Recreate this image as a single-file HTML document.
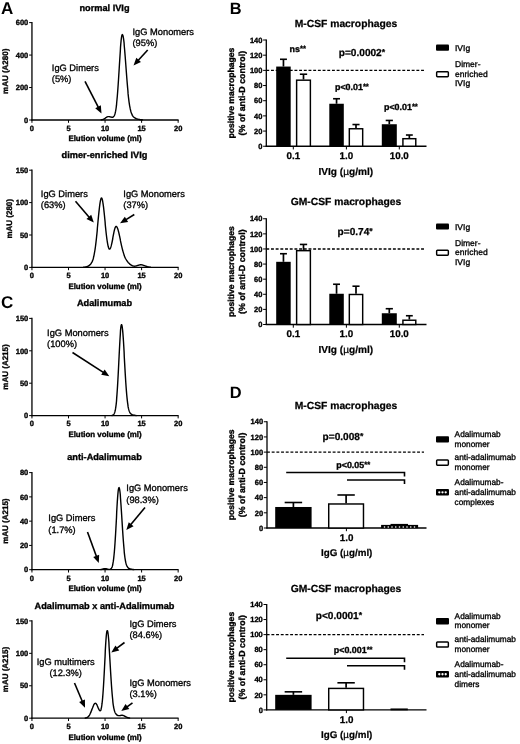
<!DOCTYPE html>
<html lang="en"><head><meta charset="utf-8"><title>Figure</title>
<style>
html,body{margin:0;padding:0;background:#fff;}
body{width:520px;height:744px;overflow:hidden;}
svg{display:block;will-change:transform;text-rendering:geometricPrecision;font-family:'Liberation Sans', sans-serif;fill:#000;}
</style></head><body>
<svg width="520" height="744" viewBox="0 0 520 744" font-family="Liberation Sans, sans-serif">
<rect width="520" height="744" fill="#fff"/>
<text x="104.50" y="10.60" font-size="9.2" font-weight="bold" stroke="#000" stroke-width="0.34" text-anchor="middle">normal IVIg</text>
<line x1="31.95" y1="22.00" x2="31.95" y2="120.60" stroke="#000" stroke-width="1.3"/>
<line x1="31.35" y1="120.00" x2="178.60" y2="120.00" stroke="#000" stroke-width="1.3"/>
<line x1="29.15" y1="120.00" x2="31.95" y2="120.00" stroke="#000" stroke-width="1.0"/>
<text x="28.25" y="122.70" font-size="7.5" font-weight="bold" stroke="#000" stroke-width="0.34" text-anchor="end">0</text>
<line x1="29.15" y1="87.53" x2="31.95" y2="87.53" stroke="#000" stroke-width="1.0"/>
<text x="28.25" y="90.23" font-size="7.5" font-weight="bold" stroke="#000" stroke-width="0.34" text-anchor="end">200</text>
<line x1="29.15" y1="55.07" x2="31.95" y2="55.07" stroke="#000" stroke-width="1.0"/>
<text x="28.25" y="57.77" font-size="7.5" font-weight="bold" stroke="#000" stroke-width="0.34" text-anchor="end">400</text>
<line x1="29.15" y1="22.60" x2="31.95" y2="22.60" stroke="#000" stroke-width="1.0"/>
<text x="28.25" y="25.30" font-size="7.5" font-weight="bold" stroke="#000" stroke-width="0.34" text-anchor="end">600</text>
<line x1="31.95" y1="120.00" x2="31.95" y2="122.80" stroke="#000" stroke-width="1.0"/>
<text x="31.95" y="130.80" font-size="7.5" font-weight="bold" stroke="#000" stroke-width="0.34" text-anchor="middle">0</text>
<line x1="68.50" y1="120.00" x2="68.50" y2="122.80" stroke="#000" stroke-width="1.0"/>
<text x="68.50" y="130.80" font-size="7.5" font-weight="bold" stroke="#000" stroke-width="0.34" text-anchor="middle">5</text>
<line x1="105.05" y1="120.00" x2="105.05" y2="122.80" stroke="#000" stroke-width="1.0"/>
<text x="105.05" y="130.80" font-size="7.5" font-weight="bold" stroke="#000" stroke-width="0.34" text-anchor="middle">10</text>
<line x1="141.60" y1="120.00" x2="141.60" y2="122.80" stroke="#000" stroke-width="1.0"/>
<text x="141.60" y="130.80" font-size="7.5" font-weight="bold" stroke="#000" stroke-width="0.34" text-anchor="middle">15</text>
<line x1="178.15" y1="120.00" x2="178.15" y2="122.80" stroke="#000" stroke-width="1.0"/>
<text x="178.15" y="130.80" font-size="7.5" font-weight="bold" stroke="#000" stroke-width="0.34" text-anchor="middle">20</text>
<text x="105.00" y="140.90" font-size="7.9" font-weight="bold" stroke="#000" stroke-width="0.34" text-anchor="middle">Elution volume (ml)</text>
<text x="8.10" y="71.30" font-size="8" font-weight="bold" stroke="#000" stroke-width="0.34" text-anchor="middle" transform="rotate(-90 8.10 71.30)">mAU (A280)</text>
<path d="M101.2,119.9 L101.5,119.8 L101.8,119.8 L102.1,119.7 L102.4,119.6 L102.7,119.6 L103.0,119.5 L103.3,119.3 L103.6,119.2 L103.9,119.1 L104.2,118.9 L104.5,118.7 L104.8,118.5 L105.1,118.3 L105.3,118.1 L105.6,117.9 L105.9,117.7 L106.2,117.5 L106.5,117.3 L106.8,117.1 L107.1,116.9 L107.4,116.8 L107.7,116.7 L108.0,116.6 L108.3,116.6 L108.6,116.6 L108.9,116.6 L109.1,116.6 L109.4,116.7 L109.7,116.7 L110.0,116.8 L110.3,116.9 L110.6,117.0 L110.9,117.0 L111.2,117.1 L111.5,117.2 L111.8,117.2 L112.1,117.3 L112.4,117.3 L112.7,117.3 L112.9,117.2 L113.2,117.0 L113.5,116.8 L113.8,116.5 L114.1,116.0 L114.4,115.4 L114.7,114.7 L115.0,113.7 L115.3,112.6 L115.6,111.2 L115.9,109.5 L116.2,107.5 L116.5,105.2 L116.7,102.5 L117.0,99.5 L117.3,96.2 L117.6,92.5 L117.9,88.5 L118.2,84.2 L118.5,79.7 L118.8,75.0 L119.1,70.2 L119.4,65.3 L119.7,60.5 L120.0,55.9 L120.3,51.4 L120.5,47.4 L120.8,43.7 L121.1,40.6 L121.4,38.1 L121.7,36.2 L122.0,35.0 L122.3,34.6 L122.6,34.8 L122.9,35.5 L123.2,36.7 L123.5,38.4 L123.8,40.6 L124.1,43.2 L124.3,46.2 L124.6,49.5 L124.9,53.1 L125.2,56.8 L125.5,60.7 L125.8,64.7 L126.1,68.7 L126.4,72.7 L126.7,76.7 L127.0,80.5 L127.3,84.1 L127.6,87.6 L127.9,90.8 L128.1,93.9 L128.4,96.7 L128.7,99.2 L129.0,101.6 L129.3,103.7 L129.6,105.6 L129.9,107.2 L130.2,108.7 L130.5,110.0 L130.8,111.2 L131.1,112.2 L131.4,113.1 L131.7,113.8 L132.0,114.5 L132.2,115.1 L132.5,115.6 L132.8,116.0 L133.1,116.4 L133.4,116.7 L133.7,117.0 L134.0,117.3 L134.3,117.5 L134.6,117.7 L134.9,117.9 L135.2,118.1 L135.5,118.3 L135.8,118.4 L136.0,118.5 L136.3,118.7 L136.6,118.8 L136.9,118.9 L137.2,119.0 L137.5,119.1 L137.8,119.2 L138.1,119.2 L138.4,119.3 L138.7,119.4 L139.0,119.4 L139.3,119.5 L139.6,119.5 L139.8,119.6 L140.1,119.6 L140.4,119.7 L140.7,119.7 L141.0,119.7 L141.3,119.8 L141.6,119.8 L141.9,119.8 L142.2,119.8 L142.5,119.9" fill="none" stroke="#000" stroke-width="1.4" stroke-linejoin="round" stroke-linecap="round"/>
<text x="132.50" y="34.50" font-size="9.3" stroke="#000" stroke-width="0.32" text-anchor="start">IgG Monomers</text>
<text x="132.50" y="45.70" font-size="9.3" stroke="#000" stroke-width="0.32" text-anchor="start">(95%)</text>
<line x1="147.70" y1="50.00" x2="138.31" y2="60.18" stroke="#000" stroke-width="1.6"/>
<polygon points="133.50,65.40 136.34,57.68 140.97,61.95" fill="#000"/>
<text x="51.80" y="71.00" font-size="9.3" stroke="#000" stroke-width="0.32" text-anchor="start">IgG Dimers</text>
<text x="51.80" y="81.60" font-size="9.3" stroke="#000" stroke-width="0.32" text-anchor="start">(5%)</text>
<line x1="85.00" y1="81.30" x2="98.26" y2="107.18" stroke="#000" stroke-width="1.6"/>
<polygon points="101.50,113.50 95.23,108.17 100.84,105.30" fill="#000"/>
<text x="104.50" y="158.30" font-size="9.2" font-weight="bold" stroke="#000" stroke-width="0.34" text-anchor="middle">dimer-enriched IVIg</text>
<line x1="31.95" y1="169.60" x2="31.95" y2="268.00" stroke="#000" stroke-width="1.3"/>
<line x1="31.35" y1="267.40" x2="178.60" y2="267.40" stroke="#000" stroke-width="1.3"/>
<line x1="29.15" y1="267.40" x2="31.95" y2="267.40" stroke="#000" stroke-width="1.0"/>
<text x="28.25" y="270.10" font-size="7.5" font-weight="bold" stroke="#000" stroke-width="0.34" text-anchor="end">0</text>
<line x1="29.15" y1="235.00" x2="31.95" y2="235.00" stroke="#000" stroke-width="1.0"/>
<text x="28.25" y="237.70" font-size="7.5" font-weight="bold" stroke="#000" stroke-width="0.34" text-anchor="end">50</text>
<line x1="29.15" y1="202.60" x2="31.95" y2="202.60" stroke="#000" stroke-width="1.0"/>
<text x="28.25" y="205.30" font-size="7.5" font-weight="bold" stroke="#000" stroke-width="0.34" text-anchor="end">100</text>
<line x1="29.15" y1="170.20" x2="31.95" y2="170.20" stroke="#000" stroke-width="1.0"/>
<text x="28.25" y="172.90" font-size="7.5" font-weight="bold" stroke="#000" stroke-width="0.34" text-anchor="end">150</text>
<line x1="31.95" y1="267.40" x2="31.95" y2="270.20" stroke="#000" stroke-width="1.0"/>
<text x="31.95" y="278.20" font-size="7.5" font-weight="bold" stroke="#000" stroke-width="0.34" text-anchor="middle">0</text>
<line x1="68.50" y1="267.40" x2="68.50" y2="270.20" stroke="#000" stroke-width="1.0"/>
<text x="68.50" y="278.20" font-size="7.5" font-weight="bold" stroke="#000" stroke-width="0.34" text-anchor="middle">5</text>
<line x1="105.05" y1="267.40" x2="105.05" y2="270.20" stroke="#000" stroke-width="1.0"/>
<text x="105.05" y="278.20" font-size="7.5" font-weight="bold" stroke="#000" stroke-width="0.34" text-anchor="middle">10</text>
<line x1="141.60" y1="267.40" x2="141.60" y2="270.20" stroke="#000" stroke-width="1.0"/>
<text x="141.60" y="278.20" font-size="7.5" font-weight="bold" stroke="#000" stroke-width="0.34" text-anchor="middle">15</text>
<line x1="178.15" y1="267.40" x2="178.15" y2="270.20" stroke="#000" stroke-width="1.0"/>
<text x="178.15" y="278.20" font-size="7.5" font-weight="bold" stroke="#000" stroke-width="0.34" text-anchor="middle">20</text>
<text x="105.00" y="289.00" font-size="7.9" font-weight="bold" stroke="#000" stroke-width="0.34" text-anchor="middle">Elution volume (ml)</text>
<text x="11.70" y="218.80" font-size="8" font-weight="bold" stroke="#000" stroke-width="0.34" text-anchor="middle" transform="rotate(-90 11.70 218.80)">mAU (280)</text>
<path d="M83.4,267.3 L83.7,267.2 L84.0,267.2 L84.3,267.2 L84.6,267.1 L84.9,267.1 L85.2,267.1 L85.5,267.0 L85.8,266.9 L86.0,266.9 L86.3,266.8 L86.6,266.7 L86.9,266.6 L87.2,266.5 L87.5,266.4 L87.8,266.3 L88.1,266.1 L88.4,266.0 L88.7,265.8 L89.0,265.6 L89.3,265.4 L89.6,265.2 L89.8,264.9 L90.1,264.7 L90.4,264.4 L90.7,264.0 L91.0,263.7 L91.3,263.2 L91.6,262.7 L91.9,262.2 L92.2,261.6 L92.5,260.9 L92.8,260.1 L93.1,259.2 L93.4,258.2 L93.6,257.0 L93.9,255.8 L94.2,254.3 L94.5,252.7 L94.8,251.0 L95.1,249.1 L95.4,247.0 L95.7,244.7 L96.0,242.2 L96.3,239.6 L96.6,236.8 L96.9,233.9 L97.2,230.9 L97.4,227.8 L97.7,224.7 L98.0,221.5 L98.3,218.4 L98.6,215.3 L98.9,212.4 L99.2,209.6 L99.5,207.0 L99.8,204.7 L100.1,202.6 L100.4,200.9 L100.7,199.6 L101.0,198.6 L101.2,198.1 L101.5,198.0 L101.8,198.2 L102.1,198.9 L102.4,200.0 L102.7,201.5 L103.0,203.3 L103.3,205.4 L103.6,207.7 L103.9,210.3 L104.2,213.1 L104.5,216.0 L104.8,219.0 L105.1,222.0 L105.3,225.0 L105.6,227.9 L105.9,230.8 L106.2,233.5 L106.5,236.0 L106.8,238.4 L107.1,240.5 L107.4,242.4 L107.7,244.1 L108.0,245.6 L108.3,246.8 L108.6,247.7 L108.9,248.4 L109.1,248.9 L109.4,249.1 L109.7,249.1 L110.0,248.9 L110.3,248.4 L110.6,247.8 L110.9,246.9 L111.2,245.9 L111.5,244.7 L111.8,243.4 L112.1,242.0 L112.4,240.5 L112.7,239.0 L112.9,237.4 L113.2,235.8 L113.5,234.3 L113.8,232.8 L114.1,231.4 L114.4,230.1 L114.7,229.0 L115.0,228.1 L115.3,227.3 L115.6,226.8 L115.9,226.5 L116.2,226.4 L116.5,226.4 L116.7,226.7 L117.0,227.1 L117.3,227.7 L117.6,228.5 L117.9,229.3 L118.2,230.4 L118.5,231.5 L118.8,232.7 L119.1,234.0 L119.4,235.3 L119.7,236.7 L120.0,238.1 L120.3,239.5 L120.5,240.9 L120.8,242.3 L121.1,243.7 L121.4,245.1 L121.7,246.4 L122.0,247.6 L122.3,248.8 L122.6,250.0 L122.9,251.1 L123.2,252.1 L123.5,253.1 L123.8,254.1 L124.1,255.0 L124.3,255.8 L124.6,256.5 L124.9,257.2 L125.2,257.9 L125.5,258.5 L125.8,259.0 L126.1,259.5 L126.4,260.0 L126.7,260.5 L127.0,260.9 L127.3,261.3 L127.6,261.7 L127.9,262.1 L128.1,262.4 L128.4,262.7 L128.7,263.0 L129.0,263.3 L129.3,263.6 L129.6,263.9 L129.9,264.2 L130.2,264.4 L130.5,264.6 L130.8,264.8 L131.1,265.0 L131.4,265.2 L131.7,265.4 L132.0,265.5 L132.2,265.7 L132.5,265.8 L132.8,265.9 L133.1,266.0 L133.4,266.1 L133.7,266.1 L134.0,266.1 L134.3,266.2 L134.6,266.2 L134.9,266.2 L135.2,266.1 L135.5,266.1 L135.8,266.1 L136.0,266.0 L136.3,265.9 L136.6,265.8 L136.9,265.7 L137.2,265.6 L137.5,265.5 L137.8,265.4 L138.1,265.3 L138.4,265.2 L138.7,265.2 L139.0,265.1 L139.3,265.0 L139.6,264.9 L139.8,264.9 L140.1,264.8 L140.4,264.8 L140.7,264.8 L141.0,264.8 L141.3,264.8 L141.6,264.8 L141.9,264.9 L142.2,264.9 L142.5,265.0 L142.8,265.1 L143.1,265.2 L143.4,265.3 L143.6,265.4 L143.9,265.5 L144.2,265.6 L144.5,265.7 L144.8,265.8 L145.1,265.9 L145.4,266.0 L145.7,266.1 L146.0,266.2 L146.3,266.4 L146.6,266.5 L146.9,266.5 L147.2,266.6 L147.4,266.7 L147.7,266.8 L148.0,266.9 L148.3,266.9 L148.6,267.0 L148.9,267.0 L149.2,267.1 L149.5,267.1 L149.8,267.2 L150.1,267.2 L150.4,267.2 L150.7,267.3" fill="none" stroke="#000" stroke-width="1.4" stroke-linejoin="round" stroke-linecap="round"/>
<text x="40.80" y="197.00" font-size="9.3" stroke="#000" stroke-width="0.32" text-anchor="start">IgG Dimers</text>
<text x="40.80" y="208.20" font-size="9.3" stroke="#000" stroke-width="0.32" text-anchor="start">(63%)</text>
<line x1="75.50" y1="201.30" x2="89.17" y2="217.21" stroke="#000" stroke-width="1.6"/>
<polygon points="93.80,222.60 86.46,218.89 91.24,214.78" fill="#000"/>
<text x="123.30" y="197.00" font-size="9.3" stroke="#000" stroke-width="0.32" text-anchor="start">IgG Monomers</text>
<text x="123.30" y="208.20" font-size="9.3" stroke="#000" stroke-width="0.32" text-anchor="start">(37%)</text>
<line x1="134.30" y1="214.50" x2="126.05" y2="219.58" stroke="#000" stroke-width="1.6"/>
<polygon points="120.00,223.30 124.82,216.63 128.12,222.00" fill="#000"/>
<text x="104.50" y="306.30" font-size="9.2" font-weight="bold" stroke="#000" stroke-width="0.34" text-anchor="middle">Adalimumab</text>
<line x1="31.95" y1="317.80" x2="31.95" y2="416.20" stroke="#000" stroke-width="1.3"/>
<line x1="31.35" y1="415.60" x2="178.60" y2="415.60" stroke="#000" stroke-width="1.3"/>
<line x1="29.15" y1="415.60" x2="31.95" y2="415.60" stroke="#000" stroke-width="1.0"/>
<text x="28.25" y="418.30" font-size="7.5" font-weight="bold" stroke="#000" stroke-width="0.34" text-anchor="end">0</text>
<line x1="29.15" y1="383.20" x2="31.95" y2="383.20" stroke="#000" stroke-width="1.0"/>
<text x="28.25" y="385.90" font-size="7.5" font-weight="bold" stroke="#000" stroke-width="0.34" text-anchor="end">50</text>
<line x1="29.15" y1="350.80" x2="31.95" y2="350.80" stroke="#000" stroke-width="1.0"/>
<text x="28.25" y="353.50" font-size="7.5" font-weight="bold" stroke="#000" stroke-width="0.34" text-anchor="end">100</text>
<line x1="29.15" y1="318.40" x2="31.95" y2="318.40" stroke="#000" stroke-width="1.0"/>
<text x="28.25" y="321.10" font-size="7.5" font-weight="bold" stroke="#000" stroke-width="0.34" text-anchor="end">150</text>
<line x1="31.95" y1="415.60" x2="31.95" y2="418.40" stroke="#000" stroke-width="1.0"/>
<text x="31.95" y="426.40" font-size="7.5" font-weight="bold" stroke="#000" stroke-width="0.34" text-anchor="middle">0</text>
<line x1="68.50" y1="415.60" x2="68.50" y2="418.40" stroke="#000" stroke-width="1.0"/>
<text x="68.50" y="426.40" font-size="7.5" font-weight="bold" stroke="#000" stroke-width="0.34" text-anchor="middle">5</text>
<line x1="105.05" y1="415.60" x2="105.05" y2="418.40" stroke="#000" stroke-width="1.0"/>
<text x="105.05" y="426.40" font-size="7.5" font-weight="bold" stroke="#000" stroke-width="0.34" text-anchor="middle">10</text>
<line x1="141.60" y1="415.60" x2="141.60" y2="418.40" stroke="#000" stroke-width="1.0"/>
<text x="141.60" y="426.40" font-size="7.5" font-weight="bold" stroke="#000" stroke-width="0.34" text-anchor="middle">15</text>
<line x1="178.15" y1="415.60" x2="178.15" y2="418.40" stroke="#000" stroke-width="1.0"/>
<text x="178.15" y="426.40" font-size="7.5" font-weight="bold" stroke="#000" stroke-width="0.34" text-anchor="middle">20</text>
<text x="105.00" y="437.20" font-size="7.9" font-weight="bold" stroke="#000" stroke-width="0.34" text-anchor="middle">Elution volume (ml)</text>
<text x="8.10" y="367.00" font-size="8" font-weight="bold" stroke="#000" stroke-width="0.34" text-anchor="middle" transform="rotate(-90 8.10 367.00)">mAU (A215)</text>
<path d="M112.1,415.5 L112.4,415.4 L112.7,415.3 L112.9,415.1 L113.2,414.9 L113.5,414.7 L113.8,414.3 L114.1,413.8 L114.4,413.2 L114.7,412.4 L115.0,411.4 L115.3,410.0 L115.6,408.4 L115.9,406.4 L116.2,404.1 L116.5,401.2 L116.7,397.9 L117.0,394.1 L117.3,389.8 L117.6,385.1 L117.9,379.8 L118.2,374.2 L118.5,368.4 L118.8,362.3 L119.1,356.2 L119.4,350.2 L119.7,344.5 L120.0,339.2 L120.3,334.5 L120.5,330.6 L120.8,327.6 L121.1,325.6 L121.4,324.6 L121.7,324.7 L122.0,325.6 L122.3,327.5 L122.6,330.1 L122.9,333.4 L123.2,337.4 L123.5,341.8 L123.8,346.7 L124.1,351.9 L124.3,357.2 L124.6,362.6 L124.9,367.9 L125.2,373.1 L125.5,378.0 L125.8,382.7 L126.1,387.0 L126.4,390.9 L126.7,394.5 L127.0,397.6 L127.3,400.4 L127.6,402.8 L127.9,404.9 L128.1,406.7 L128.4,408.2 L128.7,409.4 L129.0,410.4 L129.3,411.3 L129.6,412.0 L129.9,412.6 L130.2,413.1 L130.5,413.4 L130.8,413.8 L131.1,414.0 L131.4,414.2 L131.7,414.4 L132.0,414.6 L132.2,414.7 L132.5,414.8 L132.8,414.9 L133.1,415.0 L133.4,415.1 L133.7,415.1 L134.0,415.2 L134.3,415.2 L134.6,415.3 L134.9,415.3 L135.2,415.4 L135.5,415.4 L135.8,415.4 L136.0,415.5 L136.3,415.5" fill="none" stroke="#000" stroke-width="1.4" stroke-linejoin="round" stroke-linecap="round"/>
<text x="47.10" y="335.50" font-size="9.3" stroke="#000" stroke-width="0.32" text-anchor="start">IgG Monomers</text>
<text x="47.10" y="346.70" font-size="9.3" stroke="#000" stroke-width="0.32" text-anchor="start">(100%)</text>
<line x1="72.50" y1="352.50" x2="103.34" y2="372.44" stroke="#000" stroke-width="1.6"/>
<polygon points="109.30,376.30 101.21,374.82 104.63,369.53" fill="#000"/>
<text x="104.50" y="460.00" font-size="9.2" font-weight="bold" stroke="#000" stroke-width="0.34" text-anchor="middle">anti-Adalimumab</text>
<line x1="31.95" y1="472.00" x2="31.95" y2="570.30" stroke="#000" stroke-width="1.3"/>
<line x1="31.35" y1="569.70" x2="178.60" y2="569.70" stroke="#000" stroke-width="1.3"/>
<line x1="29.15" y1="569.70" x2="31.95" y2="569.70" stroke="#000" stroke-width="1.0"/>
<text x="28.25" y="572.40" font-size="7.5" font-weight="bold" stroke="#000" stroke-width="0.34" text-anchor="end">0</text>
<line x1="29.15" y1="545.43" x2="31.95" y2="545.43" stroke="#000" stroke-width="1.0"/>
<text x="28.25" y="548.13" font-size="7.5" font-weight="bold" stroke="#000" stroke-width="0.34" text-anchor="end">20</text>
<line x1="29.15" y1="521.15" x2="31.95" y2="521.15" stroke="#000" stroke-width="1.0"/>
<text x="28.25" y="523.85" font-size="7.5" font-weight="bold" stroke="#000" stroke-width="0.34" text-anchor="end">40</text>
<line x1="29.15" y1="496.88" x2="31.95" y2="496.88" stroke="#000" stroke-width="1.0"/>
<text x="28.25" y="499.57" font-size="7.5" font-weight="bold" stroke="#000" stroke-width="0.34" text-anchor="end">60</text>
<line x1="29.15" y1="472.60" x2="31.95" y2="472.60" stroke="#000" stroke-width="1.0"/>
<text x="28.25" y="475.30" font-size="7.5" font-weight="bold" stroke="#000" stroke-width="0.34" text-anchor="end">80</text>
<line x1="31.95" y1="569.70" x2="31.95" y2="572.50" stroke="#000" stroke-width="1.0"/>
<text x="31.95" y="580.50" font-size="7.5" font-weight="bold" stroke="#000" stroke-width="0.34" text-anchor="middle">0</text>
<line x1="68.50" y1="569.70" x2="68.50" y2="572.50" stroke="#000" stroke-width="1.0"/>
<text x="68.50" y="580.50" font-size="7.5" font-weight="bold" stroke="#000" stroke-width="0.34" text-anchor="middle">5</text>
<line x1="105.05" y1="569.70" x2="105.05" y2="572.50" stroke="#000" stroke-width="1.0"/>
<text x="105.05" y="580.50" font-size="7.5" font-weight="bold" stroke="#000" stroke-width="0.34" text-anchor="middle">10</text>
<line x1="141.60" y1="569.70" x2="141.60" y2="572.50" stroke="#000" stroke-width="1.0"/>
<text x="141.60" y="580.50" font-size="7.5" font-weight="bold" stroke="#000" stroke-width="0.34" text-anchor="middle">15</text>
<line x1="178.15" y1="569.70" x2="178.15" y2="572.50" stroke="#000" stroke-width="1.0"/>
<text x="178.15" y="580.50" font-size="7.5" font-weight="bold" stroke="#000" stroke-width="0.34" text-anchor="middle">20</text>
<text x="105.00" y="591.30" font-size="7.9" font-weight="bold" stroke="#000" stroke-width="0.34" text-anchor="middle">Elution volume (ml)</text>
<text x="8.10" y="521.15" font-size="8" font-weight="bold" stroke="#000" stroke-width="0.34" text-anchor="middle" transform="rotate(-90 8.10 521.15)">mAU (A215)</text>
<path d="M100.7,569.6 L101.0,569.5 L101.2,569.5 L101.5,569.4 L101.8,569.3 L102.1,569.3 L102.4,569.2 L102.7,569.1 L103.0,569.0 L103.3,568.9 L103.6,568.8 L103.9,568.8 L104.2,568.7 L104.5,568.6 L104.8,568.6 L105.1,568.6 L105.3,568.6 L105.6,568.6 L105.9,568.7 L106.2,568.8 L106.5,568.8 L106.8,568.9 L107.1,569.0 L107.4,569.1 L107.7,569.2 L108.0,569.2 L108.3,569.3 L108.6,569.4 L108.9,569.4 L109.1,569.4 L109.4,569.4 L109.7,569.4 L110.0,569.4 L110.3,569.3 L110.6,569.1 L110.9,568.9 L111.2,568.6 L111.5,568.2 L111.8,567.7 L112.1,567.0 L112.4,566.1 L112.7,565.0 L112.9,563.6 L113.2,561.9 L113.5,559.9 L113.8,557.4 L114.1,554.5 L114.4,551.2 L114.7,547.5 L115.0,543.3 L115.3,538.6 L115.6,533.7 L115.9,528.4 L116.2,523.0 L116.5,517.5 L116.7,512.0 L117.0,506.8 L117.3,501.9 L117.6,497.6 L117.9,493.9 L118.2,490.9 L118.5,488.9 L118.8,487.8 L119.1,487.6 L119.4,488.3 L119.7,489.8 L120.0,492.0 L120.3,494.8 L120.5,498.2 L120.8,502.2 L121.1,506.5 L121.4,511.1 L121.7,515.8 L122.0,520.6 L122.3,525.4 L122.6,530.1 L122.9,534.6 L123.2,538.9 L123.5,542.8 L123.8,546.4 L124.1,549.7 L124.3,552.6 L124.6,555.2 L124.9,557.5 L125.2,559.4 L125.5,561.1 L125.8,562.5 L126.1,563.7 L126.4,564.7 L126.7,565.5 L127.0,566.1 L127.3,566.7 L127.6,567.1 L127.9,567.5 L128.1,567.8 L128.4,568.1 L128.7,568.3 L129.0,568.4 L129.3,568.6 L129.6,568.7 L129.9,568.8 L130.2,568.9 L130.5,569.0 L130.8,569.1 L131.1,569.2 L131.4,569.2 L131.7,569.3 L132.0,569.3 L132.2,569.4 L132.5,569.4 L132.8,569.5 L133.1,569.5 L133.4,569.5 L133.7,569.6 L134.0,569.6" fill="none" stroke="#000" stroke-width="1.4" stroke-linejoin="round" stroke-linecap="round"/>
<text x="48.30" y="521.30" font-size="9.3" stroke="#000" stroke-width="0.32" text-anchor="start">IgG Dimers</text>
<text x="48.30" y="532.50" font-size="9.3" stroke="#000" stroke-width="0.32" text-anchor="start">(1.7%)</text>
<line x1="87.50" y1="532.00" x2="96.37" y2="556.33" stroke="#000" stroke-width="1.6"/>
<polygon points="98.80,563.00 93.24,556.94 99.16,554.78" fill="#000"/>
<text x="126.30" y="491.30" font-size="9.3" stroke="#000" stroke-width="0.32" text-anchor="start">IgG Monomers</text>
<text x="126.30" y="502.50" font-size="9.3" stroke="#000" stroke-width="0.32" text-anchor="start">(98.3%)</text>
<line x1="145.00" y1="507.50" x2="130.84" y2="524.54" stroke="#000" stroke-width="1.6"/>
<polygon points="126.30,530.00 128.74,522.14 133.58,526.17" fill="#000"/>
<text x="104.50" y="608.80" font-size="9.2" font-weight="bold" stroke="#000" stroke-width="0.34" text-anchor="middle">Adalimumab x anti-Adalimumab</text>
<line x1="31.95" y1="620.30" x2="31.95" y2="718.80" stroke="#000" stroke-width="1.3"/>
<line x1="31.35" y1="718.20" x2="178.60" y2="718.20" stroke="#000" stroke-width="1.3"/>
<line x1="29.15" y1="718.20" x2="31.95" y2="718.20" stroke="#000" stroke-width="1.0"/>
<text x="28.25" y="720.90" font-size="7.5" font-weight="bold" stroke="#000" stroke-width="0.34" text-anchor="end">0</text>
<line x1="29.15" y1="685.77" x2="31.95" y2="685.77" stroke="#000" stroke-width="1.0"/>
<text x="28.25" y="688.47" font-size="7.5" font-weight="bold" stroke="#000" stroke-width="0.34" text-anchor="end">50</text>
<line x1="29.15" y1="653.33" x2="31.95" y2="653.33" stroke="#000" stroke-width="1.0"/>
<text x="28.25" y="656.03" font-size="7.5" font-weight="bold" stroke="#000" stroke-width="0.34" text-anchor="end">100</text>
<line x1="29.15" y1="620.90" x2="31.95" y2="620.90" stroke="#000" stroke-width="1.0"/>
<text x="28.25" y="623.60" font-size="7.5" font-weight="bold" stroke="#000" stroke-width="0.34" text-anchor="end">150</text>
<line x1="31.95" y1="718.20" x2="31.95" y2="721.00" stroke="#000" stroke-width="1.0"/>
<text x="31.95" y="729.00" font-size="7.5" font-weight="bold" stroke="#000" stroke-width="0.34" text-anchor="middle">0</text>
<line x1="68.50" y1="718.20" x2="68.50" y2="721.00" stroke="#000" stroke-width="1.0"/>
<text x="68.50" y="729.00" font-size="7.5" font-weight="bold" stroke="#000" stroke-width="0.34" text-anchor="middle">5</text>
<line x1="105.05" y1="718.20" x2="105.05" y2="721.00" stroke="#000" stroke-width="1.0"/>
<text x="105.05" y="729.00" font-size="7.5" font-weight="bold" stroke="#000" stroke-width="0.34" text-anchor="middle">10</text>
<line x1="141.60" y1="718.20" x2="141.60" y2="721.00" stroke="#000" stroke-width="1.0"/>
<text x="141.60" y="729.00" font-size="7.5" font-weight="bold" stroke="#000" stroke-width="0.34" text-anchor="middle">15</text>
<line x1="178.15" y1="718.20" x2="178.15" y2="721.00" stroke="#000" stroke-width="1.0"/>
<text x="178.15" y="729.00" font-size="7.5" font-weight="bold" stroke="#000" stroke-width="0.34" text-anchor="middle">20</text>
<text x="105.00" y="739.80" font-size="7.9" font-weight="bold" stroke="#000" stroke-width="0.34" text-anchor="middle">Elution volume (ml)</text>
<text x="8.10" y="669.55" font-size="8" font-weight="bold" stroke="#000" stroke-width="0.34" text-anchor="middle" transform="rotate(-90 8.10 669.55)">mAU (A215)</text>
<path d="M85.2,718.1 L85.5,718.0 L85.8,718.0 L86.0,717.9 L86.3,717.8 L86.6,717.7 L86.9,717.6 L87.2,717.5 L87.5,717.3 L87.8,717.1 L88.1,716.9 L88.4,716.6 L88.7,716.3 L89.0,715.9 L89.3,715.5 L89.6,715.0 L89.8,714.5 L90.1,713.9 L90.4,713.3 L90.7,712.6 L91.0,711.9 L91.3,711.1 L91.6,710.4 L91.9,709.6 L92.2,708.7 L92.5,708.0 L92.8,707.2 L93.1,706.4 L93.4,705.7 L93.6,705.1 L93.9,704.6 L94.2,704.1 L94.5,703.7 L94.8,703.5 L95.1,703.3 L95.4,703.3 L95.7,703.4 L96.0,703.6 L96.3,703.9 L96.6,704.3 L96.9,704.8 L97.2,705.4 L97.4,706.0 L97.7,706.7 L98.0,707.4 L98.3,708.1 L98.6,708.7 L98.9,709.4 L99.2,709.9 L99.5,710.4 L99.8,710.7 L100.1,710.8 L100.4,710.7 L100.7,710.4 L101.0,709.7 L101.2,708.7 L101.5,707.3 L101.8,705.5 L102.1,703.2 L102.4,700.4 L102.7,697.1 L103.0,693.3 L103.3,689.0 L103.6,684.2 L103.9,679.0 L104.2,673.5 L104.5,667.7 L104.8,661.9 L105.1,656.1 L105.3,650.6 L105.6,645.4 L105.9,640.8 L106.2,636.9 L106.5,633.8 L106.8,631.7 L107.1,630.6 L107.4,630.6 L107.7,631.4 L108.0,633.1 L108.3,635.5 L108.6,638.7 L108.9,642.4 L109.1,646.7 L109.4,651.4 L109.7,656.3 L110.0,661.5 L110.3,666.6 L110.6,671.7 L110.9,676.6 L111.2,681.3 L111.5,685.7 L111.8,689.8 L112.1,693.5 L112.4,696.8 L112.7,699.8 L112.9,702.3 L113.2,704.6 L113.5,706.5 L113.8,708.1 L114.1,709.4 L114.4,710.6 L114.7,711.5 L115.0,712.3 L115.3,713.0 L115.6,713.5 L115.9,713.9 L116.2,714.3 L116.5,714.6 L116.7,714.9 L117.0,715.1 L117.3,715.2 L117.6,715.4 L117.9,715.5 L118.2,715.6 L118.5,715.6 L118.8,715.6 L119.1,715.7 L119.4,715.6 L119.7,715.6 L120.0,715.6 L120.3,715.5 L120.5,715.5 L120.8,715.4 L121.1,715.4 L121.4,715.3 L121.7,715.3 L122.0,715.3 L122.3,715.3 L122.6,715.3 L122.9,715.4 L123.2,715.5 L123.5,715.6 L123.8,715.7 L124.1,715.8 L124.3,715.9 L124.6,716.1 L124.9,716.3 L125.2,716.4 L125.5,716.6 L125.8,716.8 L126.1,716.9 L126.4,717.1 L126.7,717.2 L127.0,717.3 L127.3,717.5 L127.6,717.6 L127.9,717.7 L128.1,717.8 L128.4,717.8 L128.7,717.9 L129.0,718.0 L129.3,718.0 L129.6,718.1" fill="none" stroke="#000" stroke-width="1.4" stroke-linejoin="round" stroke-linecap="round"/>
<text x="65.70" y="665.00" font-size="9.3" stroke="#000" stroke-width="0.32" text-anchor="middle">IgG multimers</text>
<text x="65.70" y="676.00" font-size="9.3" stroke="#000" stroke-width="0.32" text-anchor="middle">(12.3%)</text>
<line x1="74.50" y1="683.00" x2="82.23" y2="701.26" stroke="#000" stroke-width="1.6"/>
<polygon points="85.00,707.80 79.14,702.03 84.94,699.57" fill="#000"/>
<text x="129.50" y="626.80" font-size="9.3" stroke="#000" stroke-width="0.32" text-anchor="start">IgG Dimers</text>
<text x="129.50" y="638.00" font-size="9.3" stroke="#000" stroke-width="0.32" text-anchor="start">(84.6%)</text>
<line x1="124.50" y1="642.50" x2="116.96" y2="648.21" stroke="#000" stroke-width="1.6"/>
<polygon points="111.30,652.50 115.46,645.40 119.26,650.42" fill="#000"/>
<text x="129.50" y="686.30" font-size="9.3" stroke="#000" stroke-width="0.32" text-anchor="start">IgG Monomers</text>
<text x="129.50" y="696.70" font-size="9.3" stroke="#000" stroke-width="0.32" text-anchor="start">(3.1%)</text>
<line x1="132.50" y1="702.80" x2="127.03" y2="706.81" stroke="#000" stroke-width="1.6"/>
<polygon points="121.30,711.00 125.57,703.97 129.29,709.05" fill="#000"/>
<text x="1.00" y="13.70" font-size="17" font-weight="bold" text-anchor="start">A</text>
<text x="1.00" y="308.00" font-size="17" font-weight="bold" text-anchor="start">C</text>
<text x="229.70" y="13.50" font-size="16.4" font-weight="bold" text-anchor="start">B</text>
<text x="229.70" y="397.70" font-size="16.4" font-weight="bold" text-anchor="start">D</text>
<text x="346.00" y="27.40" font-size="10.3" font-weight="bold" stroke="#000" stroke-width="0.25" text-anchor="middle">M-CSF macrophages</text>
<line x1="266.30" y1="39.40" x2="266.30" y2="146.85" stroke="#000" stroke-width="1.3"/>
<line x1="265.70" y1="146.25" x2="426.50" y2="146.25" stroke="#000" stroke-width="1.3"/>
<line x1="263.10" y1="146.25" x2="266.30" y2="146.25" stroke="#000" stroke-width="1.0"/>
<text x="262.40" y="148.95" font-size="7.5" font-weight="bold" stroke="#000" stroke-width="0.34" text-anchor="end">0</text>
<line x1="263.10" y1="131.07" x2="266.30" y2="131.07" stroke="#000" stroke-width="1.0"/>
<text x="262.40" y="133.77" font-size="7.5" font-weight="bold" stroke="#000" stroke-width="0.34" text-anchor="end">20</text>
<line x1="263.10" y1="115.89" x2="266.30" y2="115.89" stroke="#000" stroke-width="1.0"/>
<text x="262.40" y="118.59" font-size="7.5" font-weight="bold" stroke="#000" stroke-width="0.34" text-anchor="end">40</text>
<line x1="263.10" y1="100.71" x2="266.30" y2="100.71" stroke="#000" stroke-width="1.0"/>
<text x="262.40" y="103.41" font-size="7.5" font-weight="bold" stroke="#000" stroke-width="0.34" text-anchor="end">60</text>
<line x1="263.10" y1="85.54" x2="266.30" y2="85.54" stroke="#000" stroke-width="1.0"/>
<text x="262.40" y="88.24" font-size="7.5" font-weight="bold" stroke="#000" stroke-width="0.34" text-anchor="end">80</text>
<line x1="263.10" y1="70.36" x2="266.30" y2="70.36" stroke="#000" stroke-width="1.0"/>
<text x="262.40" y="73.06" font-size="7.5" font-weight="bold" stroke="#000" stroke-width="0.34" text-anchor="end">100</text>
<line x1="263.10" y1="55.18" x2="266.30" y2="55.18" stroke="#000" stroke-width="1.0"/>
<text x="262.40" y="57.88" font-size="7.5" font-weight="bold" stroke="#000" stroke-width="0.34" text-anchor="end">120</text>
<line x1="263.10" y1="40.00" x2="266.30" y2="40.00" stroke="#000" stroke-width="1.0"/>
<text x="262.40" y="42.70" font-size="7.5" font-weight="bold" stroke="#000" stroke-width="0.34" text-anchor="end">140</text>
<line x1="293.30" y1="146.25" x2="293.30" y2="149.45" stroke="#000" stroke-width="1.0"/>
<line x1="346.40" y1="146.25" x2="346.40" y2="149.45" stroke="#000" stroke-width="1.0"/>
<line x1="399.30" y1="146.25" x2="399.30" y2="149.45" stroke="#000" stroke-width="1.0"/>
<line x1="266.30" y1="70.36" x2="424" y2="70.36" stroke="#000" stroke-width="1.4" stroke-dasharray="2.9 1.79"/>
<text x="234.40" y="93.12" font-size="8.6" font-weight="bold" stroke="#000" stroke-width="0.34" text-anchor="middle" transform="rotate(-90 234.40 93.12)">positive macrophages</text>
<text x="244.70" y="93.12" font-size="8.85" font-weight="bold" stroke="#000" stroke-width="0.34" text-anchor="middle" transform="rotate(-90 244.70 93.12)">(% of anti-D control)</text>
<text x="345.8" y="175.30" font-size="10.1" font-weight="bold" stroke="#000" stroke-width="0.22" text-anchor="middle">IVIg (<tspan font-weight="normal">µ</tspan>g/ml)</text>
<line x1="283.45" y1="66.56" x2="283.45" y2="59.28" stroke="#000" stroke-width="1.7"/>
<line x1="279.97" y1="59.28" x2="286.93" y2="59.28" stroke="#000" stroke-width="1.6"/>
<rect x="276.20" y="66.56" width="14.50" height="79.69" fill="#000"/>
<line x1="303.50" y1="79.46" x2="303.50" y2="74.23" stroke="#000" stroke-width="1.7"/>
<line x1="299.85" y1="74.23" x2="307.15" y2="74.23" stroke="#000" stroke-width="1.6"/>
<rect x="296.62" y="80.18" width="13.76" height="66.07" fill="#fff" stroke="#000" stroke-width="1.45"/>
<line x1="336.55" y1="103.75" x2="336.55" y2="98.74" stroke="#000" stroke-width="1.7"/>
<line x1="333.07" y1="98.74" x2="340.03" y2="98.74" stroke="#000" stroke-width="1.6"/>
<rect x="329.30" y="103.75" width="14.50" height="42.50" fill="#000"/>
<line x1="356.00" y1="128.04" x2="356.00" y2="124.54" stroke="#000" stroke-width="1.7"/>
<line x1="352.45" y1="124.54" x2="359.55" y2="124.54" stroke="#000" stroke-width="1.6"/>
<rect x="349.32" y="128.76" width="13.36" height="17.49" fill="#fff" stroke="#000" stroke-width="1.45"/>
<line x1="389.30" y1="124.24" x2="389.30" y2="120.45" stroke="#000" stroke-width="1.7"/>
<line x1="385.70" y1="120.45" x2="392.90" y2="120.45" stroke="#000" stroke-width="1.6"/>
<rect x="381.80" y="124.24" width="15.00" height="22.01" fill="#000"/>
<line x1="409.35" y1="137.98" x2="409.35" y2="135.02" stroke="#000" stroke-width="1.7"/>
<line x1="405.92" y1="135.02" x2="412.78" y2="135.02" stroke="#000" stroke-width="1.6"/>
<rect x="402.92" y="138.70" width="12.86" height="7.55" fill="#fff" stroke="#000" stroke-width="1.45"/>
<text x="293.30" y="159.20" font-size="9.8" font-weight="bold" stroke="#000" stroke-width="0.25" text-anchor="middle">0.1</text>
<text x="346.40" y="159.20" font-size="9.8" font-weight="bold" stroke="#000" stroke-width="0.25" text-anchor="middle">1.0</text>
<text x="399.30" y="159.20" font-size="9.8" font-weight="bold" stroke="#000" stroke-width="0.25" text-anchor="middle">10.0</text>
<text x="289.60" y="52.00" font-size="8.9" font-weight="bold" stroke="#000" stroke-width="0.34">ns<tspan font-size="7.65" dy="-0.9">**</tspan></text>
<text x="338.80" y="56.30" font-size="10.1" font-weight="bold" stroke="#000" stroke-width="0.25">p=0.0002<tspan font-size="8.69" dy="-0.9">*</tspan></text>
<text x="335.00" y="89.50" font-size="8.9" font-weight="bold" stroke="#000" stroke-width="0.34">p&lt;0.01<tspan font-size="7.65" dy="-0.9">**</tspan></text>
<text x="384.00" y="110.00" font-size="8.9" font-weight="bold" stroke="#000" stroke-width="0.34">p&lt;0.01<tspan font-size="7.65" dy="-0.9">**</tspan></text>
<rect x="436.0" y="44.60" width="13.00" height="6.20" rx="1" fill="#000"/>
<text x="455.00" y="50.80" font-size="8.5" stroke="#000" stroke-width="0.32" text-anchor="start">IVIg</text>
<rect x="436.65" y="71.65" width="11.70" height="5.00" rx="0.8" fill="#fff" stroke="#000" stroke-width="1.45"/>
<text x="455.00" y="67.10" font-size="8.5" stroke="#000" stroke-width="0.32" text-anchor="start">Dimer-</text>
<text x="455.00" y="76.70" font-size="8.5" stroke="#000" stroke-width="0.32" text-anchor="start">enriched</text>
<text x="455.00" y="86.30" font-size="8.5" stroke="#000" stroke-width="0.32" text-anchor="start">IVIg</text>
<text x="346.00" y="205.40" font-size="10.3" font-weight="bold" stroke="#000" stroke-width="0.25" text-anchor="middle">GM-CSF macrophages</text>
<line x1="266.30" y1="218.15" x2="266.30" y2="325.10" stroke="#000" stroke-width="1.3"/>
<line x1="265.70" y1="324.50" x2="426.50" y2="324.50" stroke="#000" stroke-width="1.3"/>
<line x1="263.10" y1="324.50" x2="266.30" y2="324.50" stroke="#000" stroke-width="1.0"/>
<text x="262.40" y="327.20" font-size="7.5" font-weight="bold" stroke="#000" stroke-width="0.34" text-anchor="end">0</text>
<line x1="263.10" y1="309.39" x2="266.30" y2="309.39" stroke="#000" stroke-width="1.0"/>
<text x="262.40" y="312.09" font-size="7.5" font-weight="bold" stroke="#000" stroke-width="0.34" text-anchor="end">20</text>
<line x1="263.10" y1="294.29" x2="266.30" y2="294.29" stroke="#000" stroke-width="1.0"/>
<text x="262.40" y="296.99" font-size="7.5" font-weight="bold" stroke="#000" stroke-width="0.34" text-anchor="end">40</text>
<line x1="263.10" y1="279.18" x2="266.30" y2="279.18" stroke="#000" stroke-width="1.0"/>
<text x="262.40" y="281.88" font-size="7.5" font-weight="bold" stroke="#000" stroke-width="0.34" text-anchor="end">60</text>
<line x1="263.10" y1="264.07" x2="266.30" y2="264.07" stroke="#000" stroke-width="1.0"/>
<text x="262.40" y="266.77" font-size="7.5" font-weight="bold" stroke="#000" stroke-width="0.34" text-anchor="end">80</text>
<line x1="263.10" y1="248.96" x2="266.30" y2="248.96" stroke="#000" stroke-width="1.0"/>
<text x="262.40" y="251.66" font-size="7.5" font-weight="bold" stroke="#000" stroke-width="0.34" text-anchor="end">100</text>
<line x1="263.10" y1="233.86" x2="266.30" y2="233.86" stroke="#000" stroke-width="1.0"/>
<text x="262.40" y="236.56" font-size="7.5" font-weight="bold" stroke="#000" stroke-width="0.34" text-anchor="end">120</text>
<line x1="263.10" y1="218.75" x2="266.30" y2="218.75" stroke="#000" stroke-width="1.0"/>
<text x="262.40" y="221.45" font-size="7.5" font-weight="bold" stroke="#000" stroke-width="0.34" text-anchor="end">140</text>
<line x1="293.30" y1="324.50" x2="293.30" y2="327.70" stroke="#000" stroke-width="1.0"/>
<line x1="346.40" y1="324.50" x2="346.40" y2="327.70" stroke="#000" stroke-width="1.0"/>
<line x1="399.30" y1="324.50" x2="399.30" y2="327.70" stroke="#000" stroke-width="1.0"/>
<line x1="266.30" y1="248.96" x2="424" y2="248.96" stroke="#000" stroke-width="1.4" stroke-dasharray="2.9 1.79"/>
<text x="234.40" y="271.62" font-size="8.6" font-weight="bold" stroke="#000" stroke-width="0.34" text-anchor="middle" transform="rotate(-90 234.40 271.62)">positive macrophages</text>
<text x="244.70" y="271.62" font-size="8.85" font-weight="bold" stroke="#000" stroke-width="0.34" text-anchor="middle" transform="rotate(-90 244.70 271.62)">(% of anti-D control)</text>
<text x="345.8" y="353.30" font-size="10.1" font-weight="bold" stroke="#000" stroke-width="0.22" text-anchor="middle">IVIg (<tspan font-weight="normal">µ</tspan>g/ml)</text>
<line x1="283.45" y1="261.81" x2="283.45" y2="253.72" stroke="#000" stroke-width="1.7"/>
<line x1="279.97" y1="253.72" x2="286.93" y2="253.72" stroke="#000" stroke-width="1.6"/>
<rect x="276.20" y="261.81" width="14.50" height="62.69" fill="#000"/>
<line x1="303.50" y1="249.95" x2="303.50" y2="244.43" stroke="#000" stroke-width="1.7"/>
<line x1="299.85" y1="244.43" x2="307.15" y2="244.43" stroke="#000" stroke-width="1.6"/>
<rect x="296.62" y="250.67" width="13.76" height="73.83" fill="#fff" stroke="#000" stroke-width="1.45"/>
<line x1="336.55" y1="293.76" x2="336.55" y2="284.24" stroke="#000" stroke-width="1.7"/>
<line x1="333.07" y1="284.24" x2="340.03" y2="284.24" stroke="#000" stroke-width="1.6"/>
<rect x="329.30" y="293.76" width="14.50" height="30.74" fill="#000"/>
<line x1="356.00" y1="293.76" x2="356.00" y2="286.20" stroke="#000" stroke-width="1.7"/>
<line x1="352.45" y1="286.20" x2="359.55" y2="286.20" stroke="#000" stroke-width="1.6"/>
<rect x="349.32" y="294.48" width="13.36" height="30.02" fill="#fff" stroke="#000" stroke-width="1.45"/>
<line x1="389.30" y1="313.25" x2="389.30" y2="308.71" stroke="#000" stroke-width="1.7"/>
<line x1="385.70" y1="308.71" x2="392.90" y2="308.71" stroke="#000" stroke-width="1.6"/>
<rect x="381.80" y="313.25" width="15.00" height="11.25" fill="#000"/>
<line x1="409.35" y1="319.51" x2="409.35" y2="315.74" stroke="#000" stroke-width="1.7"/>
<line x1="405.92" y1="315.74" x2="412.78" y2="315.74" stroke="#000" stroke-width="1.6"/>
<rect x="402.92" y="320.23" width="12.86" height="4.27" fill="#fff" stroke="#000" stroke-width="1.45"/>
<text x="293.30" y="337.40" font-size="9.8" font-weight="bold" stroke="#000" stroke-width="0.25" text-anchor="middle">0.1</text>
<text x="346.40" y="337.40" font-size="9.8" font-weight="bold" stroke="#000" stroke-width="0.25" text-anchor="middle">1.0</text>
<text x="399.30" y="337.40" font-size="9.8" font-weight="bold" stroke="#000" stroke-width="0.25" text-anchor="middle">10.0</text>
<text x="337.60" y="235.00" font-size="10.1" font-weight="bold" stroke="#000" stroke-width="0.25">p=0.74<tspan font-size="8.69" dy="-0.9">*</tspan></text>
<rect x="436.0" y="223.40" width="13.00" height="6.10" rx="1" fill="#000"/>
<text x="455.00" y="229.50" font-size="8.5" stroke="#000" stroke-width="0.32" text-anchor="start">IVIg</text>
<rect x="436.65" y="250.15" width="11.70" height="5.00" rx="0.8" fill="#fff" stroke="#000" stroke-width="1.45"/>
<text x="455.00" y="245.80" font-size="8.5" stroke="#000" stroke-width="0.32" text-anchor="start">Dimer-</text>
<text x="455.00" y="255.40" font-size="8.5" stroke="#000" stroke-width="0.32" text-anchor="start">enriched</text>
<text x="455.00" y="265.00" font-size="8.5" stroke="#000" stroke-width="0.32" text-anchor="start">IVIg</text>
<text x="346.00" y="408.90" font-size="10.3" font-weight="bold" stroke="#000" stroke-width="0.25" text-anchor="middle">M-CSF macrophages</text>
<line x1="267.00" y1="421.15" x2="267.00" y2="528.60" stroke="#000" stroke-width="1.3"/>
<line x1="266.40" y1="528.00" x2="426.50" y2="528.00" stroke="#000" stroke-width="1.3"/>
<line x1="263.80" y1="528.00" x2="267.00" y2="528.00" stroke="#000" stroke-width="1.0"/>
<text x="263.10" y="530.70" font-size="7.5" font-weight="bold" stroke="#000" stroke-width="0.34" text-anchor="end">0</text>
<line x1="263.80" y1="512.82" x2="267.00" y2="512.82" stroke="#000" stroke-width="1.0"/>
<text x="263.10" y="515.52" font-size="7.5" font-weight="bold" stroke="#000" stroke-width="0.34" text-anchor="end">20</text>
<line x1="263.80" y1="497.64" x2="267.00" y2="497.64" stroke="#000" stroke-width="1.0"/>
<text x="263.10" y="500.34" font-size="7.5" font-weight="bold" stroke="#000" stroke-width="0.34" text-anchor="end">40</text>
<line x1="263.80" y1="482.46" x2="267.00" y2="482.46" stroke="#000" stroke-width="1.0"/>
<text x="263.10" y="485.16" font-size="7.5" font-weight="bold" stroke="#000" stroke-width="0.34" text-anchor="end">60</text>
<line x1="263.80" y1="467.29" x2="267.00" y2="467.29" stroke="#000" stroke-width="1.0"/>
<text x="263.10" y="469.99" font-size="7.5" font-weight="bold" stroke="#000" stroke-width="0.34" text-anchor="end">80</text>
<line x1="263.80" y1="452.11" x2="267.00" y2="452.11" stroke="#000" stroke-width="1.0"/>
<text x="263.10" y="454.81" font-size="7.5" font-weight="bold" stroke="#000" stroke-width="0.34" text-anchor="end">100</text>
<line x1="263.80" y1="436.93" x2="267.00" y2="436.93" stroke="#000" stroke-width="1.0"/>
<text x="263.10" y="439.63" font-size="7.5" font-weight="bold" stroke="#000" stroke-width="0.34" text-anchor="end">120</text>
<line x1="263.80" y1="421.75" x2="267.00" y2="421.75" stroke="#000" stroke-width="1.0"/>
<text x="263.10" y="424.45" font-size="7.5" font-weight="bold" stroke="#000" stroke-width="0.34" text-anchor="end">140</text>
<line x1="346.40" y1="528.00" x2="346.40" y2="531.20" stroke="#000" stroke-width="1.0"/>
<line x1="267.00" y1="452.11" x2="424" y2="452.11" stroke="#000" stroke-width="1.4" stroke-dasharray="2.9 1.79"/>
<text x="234.40" y="474.88" font-size="8.6" font-weight="bold" stroke="#000" stroke-width="0.34" text-anchor="middle" transform="rotate(-90 234.40 474.88)">positive macrophages</text>
<text x="244.70" y="474.88" font-size="8.85" font-weight="bold" stroke="#000" stroke-width="0.34" text-anchor="middle" transform="rotate(-90 244.70 474.88)">(% of anti-D control)</text>
<text x="346.7" y="556.30" font-size="9.8" font-weight="bold" stroke="#000" stroke-width="0.22" text-anchor="middle">IgG (<tspan font-weight="normal">µ</tspan>g/ml)</text>
<line x1="293.40" y1="506.98" x2="293.40" y2="502.50" stroke="#000" stroke-width="1.7"/>
<line x1="284.66" y1="502.50" x2="302.14" y2="502.50" stroke="#000" stroke-width="1.6"/>
<rect x="275.20" y="506.98" width="36.40" height="21.02" fill="#000"/>
<line x1="346.10" y1="503.26" x2="346.10" y2="494.99" stroke="#000" stroke-width="1.7"/>
<line x1="337.41" y1="494.99" x2="354.79" y2="494.99" stroke="#000" stroke-width="1.6"/>
<rect x="328.72" y="503.98" width="34.76" height="24.02" fill="#fff" stroke="#000" stroke-width="1.45"/>
<rect x="381.1" y="524.9" width="37" height="3.3" fill="#000"/>
<circle cx="384.50" cy="527.0" r="0.8" fill="#fff"/>
<circle cx="388.25" cy="527.0" r="0.8" fill="#fff"/>
<circle cx="392.00" cy="527.0" r="0.8" fill="#fff"/>
<circle cx="395.75" cy="527.0" r="0.8" fill="#fff"/>
<circle cx="399.50" cy="527.0" r="0.8" fill="#fff"/>
<circle cx="403.25" cy="527.0" r="0.8" fill="#fff"/>
<circle cx="407.00" cy="527.0" r="0.8" fill="#fff"/>
<circle cx="410.75" cy="527.0" r="0.8" fill="#fff"/>
<circle cx="414.50" cy="527.0" r="0.8" fill="#fff"/>
<line x1="390.50" y1="524.50" x2="408.00" y2="524.50" stroke="#000" stroke-width="1.2"/>
<text x="346.60" y="541.10" font-size="9.8" font-weight="bold" stroke="#000" stroke-width="0.25" text-anchor="middle">1.0</text>
<text x="322.60" y="439.60" font-size="10.1" font-weight="bold" stroke="#000" stroke-width="0.25">p=0.008<tspan font-size="8.69" dy="-0.9">*</tspan></text>
<text x="336.30" y="467.50" font-size="8.9" font-weight="bold" stroke="#000" stroke-width="0.34">p&lt;0.05<tspan font-size="7.65" dy="-0.9">**</tspan></text>
<path d="M286.2,472.5 H404.5 V476.5" fill="none" stroke="#000" stroke-width="1.6"/>
<path d="M347,480 H404.5 V484" fill="none" stroke="#000" stroke-width="1.6"/>
<rect x="436.0" y="436.30" width="13.00" height="6.20" rx="1" fill="#000"/>
<text x="454.60" y="436.90" font-size="8.3" stroke="#000" stroke-width="0.32" text-anchor="start">Adalimumab</text>
<text x="454.60" y="446.50" font-size="8.3" stroke="#000" stroke-width="0.32" text-anchor="start">monomer</text>
<rect x="436.65" y="460.05" width="11.70" height="5.10" rx="0.8" fill="#fff" stroke="#000" stroke-width="1.45"/>
<text x="454.60" y="460.40" font-size="8.3" stroke="#000" stroke-width="0.32" text-anchor="start">anti-adalimumab</text>
<text x="454.60" y="470.00" font-size="8.3" stroke="#000" stroke-width="0.32" text-anchor="start">monomer</text>
<rect x="436.0" y="489.00" width="13.00" height="6.60" rx="1" fill="#000"/>
<circle cx="439.3" cy="492.30" r="1.15" fill="#fff"/>
<circle cx="442.5" cy="492.30" r="1.15" fill="#fff"/>
<circle cx="445.7" cy="492.30" r="1.15" fill="#fff"/>
<text x="454.60" y="485.40" font-size="8.3" stroke="#000" stroke-width="0.32" text-anchor="start">Adalimumab-</text>
<text x="454.60" y="495.40" font-size="8.3" stroke="#000" stroke-width="0.32" text-anchor="start">anti-adalimumab</text>
<text x="454.60" y="505.00" font-size="8.3" stroke="#000" stroke-width="0.32" text-anchor="start">complexes</text>
<text x="346.00" y="591.70" font-size="10.3" font-weight="bold" stroke="#000" stroke-width="0.25" text-anchor="middle">GM-CSF macrophages</text>
<line x1="266.70" y1="603.90" x2="266.70" y2="710.50" stroke="#000" stroke-width="1.3"/>
<line x1="266.10" y1="709.90" x2="426.50" y2="709.90" stroke="#000" stroke-width="1.15"/>
<line x1="263.50" y1="709.90" x2="266.70" y2="709.90" stroke="#000" stroke-width="1.0"/>
<text x="262.80" y="712.60" font-size="7.5" font-weight="bold" stroke="#000" stroke-width="0.34" text-anchor="end">0</text>
<line x1="263.50" y1="694.84" x2="266.70" y2="694.84" stroke="#000" stroke-width="1.0"/>
<text x="262.80" y="697.54" font-size="7.5" font-weight="bold" stroke="#000" stroke-width="0.34" text-anchor="end">20</text>
<line x1="263.50" y1="679.79" x2="266.70" y2="679.79" stroke="#000" stroke-width="1.0"/>
<text x="262.80" y="682.49" font-size="7.5" font-weight="bold" stroke="#000" stroke-width="0.34" text-anchor="end">40</text>
<line x1="263.50" y1="664.73" x2="266.70" y2="664.73" stroke="#000" stroke-width="1.0"/>
<text x="262.80" y="667.43" font-size="7.5" font-weight="bold" stroke="#000" stroke-width="0.34" text-anchor="end">60</text>
<line x1="263.50" y1="649.67" x2="266.70" y2="649.67" stroke="#000" stroke-width="1.0"/>
<text x="262.80" y="652.37" font-size="7.5" font-weight="bold" stroke="#000" stroke-width="0.34" text-anchor="end">80</text>
<line x1="263.50" y1="634.61" x2="266.70" y2="634.61" stroke="#000" stroke-width="1.0"/>
<text x="262.80" y="637.31" font-size="7.5" font-weight="bold" stroke="#000" stroke-width="0.34" text-anchor="end">100</text>
<line x1="263.50" y1="619.56" x2="266.70" y2="619.56" stroke="#000" stroke-width="1.0"/>
<text x="262.80" y="622.26" font-size="7.5" font-weight="bold" stroke="#000" stroke-width="0.34" text-anchor="end">120</text>
<line x1="263.50" y1="604.50" x2="266.70" y2="604.50" stroke="#000" stroke-width="1.0"/>
<text x="262.80" y="607.20" font-size="7.5" font-weight="bold" stroke="#000" stroke-width="0.34" text-anchor="end">140</text>
<line x1="346.40" y1="709.90" x2="346.40" y2="713.10" stroke="#000" stroke-width="1.0"/>
<line x1="266.70" y1="634.61" x2="424" y2="634.61" stroke="#000" stroke-width="1.4" stroke-dasharray="2.9 1.79"/>
<text x="234.40" y="657.20" font-size="8.6" font-weight="bold" stroke="#000" stroke-width="0.34" text-anchor="middle" transform="rotate(-90 234.40 657.20)">positive macrophages</text>
<text x="244.70" y="657.20" font-size="8.85" font-weight="bold" stroke="#000" stroke-width="0.34" text-anchor="middle" transform="rotate(-90 244.70 657.20)">(% of anti-D control)</text>
<text x="346.7" y="738.30" font-size="9.8" font-weight="bold" stroke="#000" stroke-width="0.22" text-anchor="middle">IgG (<tspan font-weight="normal">µ</tspan>g/ml)</text>
<line x1="293.40" y1="694.84" x2="293.40" y2="691.83" stroke="#000" stroke-width="1.7"/>
<line x1="284.66" y1="691.83" x2="302.14" y2="691.83" stroke="#000" stroke-width="1.6"/>
<rect x="275.20" y="694.84" width="36.40" height="15.06" fill="#000"/>
<line x1="346.10" y1="687.69" x2="346.10" y2="682.80" stroke="#000" stroke-width="1.7"/>
<line x1="337.41" y1="682.80" x2="354.79" y2="682.80" stroke="#000" stroke-width="1.6"/>
<rect x="328.72" y="688.41" width="34.76" height="21.49" fill="#fff" stroke="#000" stroke-width="1.45"/>
<line x1="390.50" y1="709.40" x2="407.80" y2="709.40" stroke="#000" stroke-width="1.9"/>
<text x="346.60" y="723.30" font-size="9.8" font-weight="bold" stroke="#000" stroke-width="0.25" text-anchor="middle">1.0</text>
<text x="315.80" y="619.30" font-size="10.1" font-weight="bold" stroke="#000" stroke-width="0.25">p&lt;0.0001<tspan font-size="8.69" dy="-0.9">*</tspan></text>
<text x="333.80" y="652.50" font-size="8.9" font-weight="bold" stroke="#000" stroke-width="0.34">p&lt;0.001<tspan font-size="7.65" dy="-0.9">**</tspan></text>
<path d="M286.2,658.3 H404.5 V662.3" fill="none" stroke="#000" stroke-width="1.6"/>
<path d="M347,665.8 H404.5 V669.8" fill="none" stroke="#000" stroke-width="1.6"/>
<rect x="436.0" y="618.00" width="13.00" height="6.40" rx="1" fill="#000"/>
<text x="454.60" y="618.70" font-size="8.3" stroke="#000" stroke-width="0.32" text-anchor="start">Adalimumab</text>
<text x="454.60" y="628.30" font-size="8.3" stroke="#000" stroke-width="0.32" text-anchor="start">monomer</text>
<rect x="436.65" y="641.95" width="11.70" height="5.10" rx="0.8" fill="#fff" stroke="#000" stroke-width="1.45"/>
<text x="454.60" y="642.30" font-size="8.3" stroke="#000" stroke-width="0.32" text-anchor="start">anti-adalimumab</text>
<text x="454.60" y="651.90" font-size="8.3" stroke="#000" stroke-width="0.32" text-anchor="start">monomer</text>
<rect x="436.0" y="671.00" width="13.00" height="6.50" rx="1" fill="#000"/>
<circle cx="439.3" cy="674.25" r="1.15" fill="#fff"/>
<circle cx="442.5" cy="674.25" r="1.15" fill="#fff"/>
<circle cx="445.7" cy="674.25" r="1.15" fill="#fff"/>
<text x="454.60" y="666.90" font-size="8.3" stroke="#000" stroke-width="0.32" text-anchor="start">Adalimumab-</text>
<text x="454.60" y="676.90" font-size="8.3" stroke="#000" stroke-width="0.32" text-anchor="start">anti-adalimumab</text>
<text x="454.60" y="686.50" font-size="8.3" stroke="#000" stroke-width="0.32" text-anchor="start">dimers</text>
</svg>
</body></html>
